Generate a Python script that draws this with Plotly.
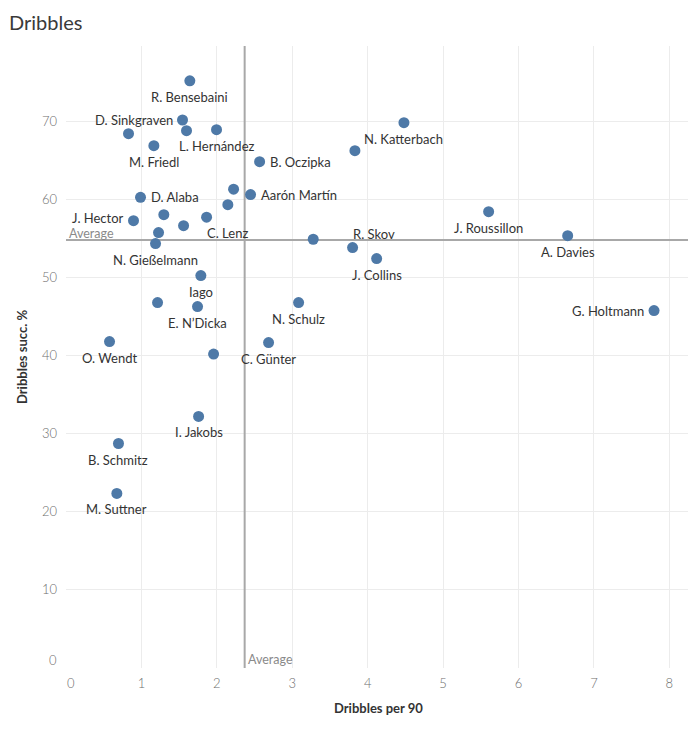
import numpy as np
import plotly.graph_objects as go

# ---- data ----
players = [
    "R. Bensebaini", "D. Sinkgraven", "", "", "L. Hernández", "M. Friedl",
    "B. Oczipka", "N. Katterbach", "", "", "Aarón Martín", "D. Alaba",
    "", "", "C. Lenz", "J. Hector", "", "", "N. Gießelmann", "",
    "R. Skov", "J. Collins", "J. Roussillon", "A. Davies", "G. Holtmann",
    "Iago", "", "E. N’Dicka", "N. Schulz", "O. Wendt", "C. Günter", "",
    "I. Jakobs", "B. Schmitz", "M. Suttner",
]
dribbles_per_90 = [
    1.642, 1.545, 0.829, 1.598, 1.996, 1.165,
    2.567, 4.481, 3.831, 2.222, 2.447, 0.988,
    2.146, 1.297, 1.864, 0.895, 1.559, 1.227, 1.187, 3.278,
    3.800, 4.119, 5.604, 6.652, 7.797,
    1.788, 1.214, 1.744, 3.084, 0.577, 2.686, 1.957,
    1.758, 0.696, 0.674,
]
dribbles_succ_pct = [
    75.15, 70.13, 68.38, 68.76, 68.89, 66.84,
    64.80, 69.78, 66.20, 61.27, 60.58, 60.24,
    59.30, 58.02, 57.69, 57.25, 56.61, 55.72, 54.31, 54.87,
    53.80, 52.39, 58.40, 55.33, 45.74,
    50.22, 46.76, 46.25, 46.76, 41.78, 41.65, 40.17,
    32.19, 28.73, 22.34,
]
x_ticks = [0, 1, 2, 3, 4, 5, 6, 7, 8]
y_ticks = [0, 10, 20, 30, 40, 50, 60, 70]

# label placement (style, kept apart from the data)
label_pos = [
    "b", "l", "", "", "b", "b",
    "r", "b", "", "", "r", "r",
    "", "", "br", "l", "", "", "b", "",
    "tr", "b", "b", "b", "l",
    "b", "", "b", "b", "b", "b", "",
    "b", "b", "b",
]

avg_x = float(np.mean(dribbles_per_90))
avg_y = float(np.mean(dribbles_succ_pct))

FONT = "Lato"
DOT = "#4e79a7"
GREY = "#8a8a8a"
TICK = dict(family=FONT, size=13, color="#6e6e6e", weight=300)
# the page body has an 8px margin, so the figure is sized to fit inside it
OFF = 8
W, H = 696 - OFF, 731 - OFF
L, R, T, B = 66 - OFF, 6, 46 - OFF, 63
PW, PH = W - L - R, H - T - B

fig = go.Figure()
fig.add_trace(go.Scatter(
    x=dribbles_per_90, y=dribbles_succ_pct, mode="markers",
    marker=dict(size=11, color=DOT, line=dict(width=0)),
    hovertext=players, hoverinfo="text", showlegend=False,
))

annotations = []
for name, xv, yv, pos in zip(players, dribbles_per_90, dribbles_succ_pct, label_pos):
    if not name:
        continue
    a = dict(x=xv, y=yv, xref="x", yref="y", text=name, showarrow=False,
             font=dict(family=FONT, size=13, color="#333333"), yanchor="middle")
    if pos == "b":
        a.update(xanchor="center", yshift=-16)
    elif pos == "r":
        a.update(xanchor="left", xshift=8)
    elif pos == "l":
        a.update(xanchor="right", xshift=-8)
    elif pos == "br":
        a.update(xanchor="left", xshift=-2, yshift=-16)
    elif pos == "tr":
        a.update(xanchor="left", xshift=-2, yshift=14)
    if name == "J. Hector":
        a.update(yshift=3)
    annotations.append(a)

# average labels
annotations.append(dict(x=0, y=avg_y, xref="x", yref="y", text="Average", showarrow=False,
                        xanchor="left", yanchor="middle", xshift=1, yshift=6.5,
                        font=dict(family=FONT, size=12.5, color=GREY)))
annotations.append(dict(x=avg_x, y=0, xref="x", yref="y", text="Average", showarrow=False,
                        xanchor="left", yanchor="middle", xshift=1, yshift=9,
                        font=dict(family=FONT, size=12.5, color=GREY)))
# zero tick labels (shifted inside like the original)
annotations.append(dict(x=0, y=0, xref="x", yref="y", text="0", showarrow=False,
                        xanchor="right", yanchor="middle", xshift=-7, yshift=8,
                        font=TICK))
annotations.append(dict(x=0, y=0, xref="x", yref="y", text="0", showarrow=False,
                        xanchor="center", yanchor="middle", xshift=4.5, yshift=-15,
                        font=TICK))
# title
annotations.append(dict(x=(-1.5 - L) / PW, y=1 + (T - (22 - OFF)) / PH, xref="paper", yref="paper",
                        text="Dribbles", showarrow=False, xanchor="left", yanchor="middle",
                        font=dict(family=FONT, size=20, color="#3a3a3a")))
# axis titles
annotations.append(dict(x=0.5, y=-((708 - OFF) - (H - B)) / PH, xref="paper", yref="paper",
                        text="<b>Dribbles per 90</b>", showarrow=False,
                        xanchor="center", yanchor="middle",
                        font=dict(family=FONT, size=13, color="#333333")))
annotations.append(dict(x=((22 - OFF) - L) / PW, y=0.5, xref="paper", yref="paper",
                        text="<b>Dribbles succ. %</b>", showarrow=False, textangle=-90,
                        xanchor="center", yanchor="middle",
                        font=dict(family=FONT, size=13, color="#333333")))

fig.update_layout(
    width=W, height=H,
    margin=dict(l=L, r=R, t=T, b=B, autoexpand=False),
    paper_bgcolor="white", plot_bgcolor="white",
    font=dict(family=FONT, color="#333333"),
    shapes=[
        dict(type="line", xref="x", yref="y", x0=avg_x, x1=avg_x, y0=0, y1=79.6,
             line=dict(color="#a8a8a8", width=2), layer="between"),
        dict(type="line", xref="x", yref="y", x0=0, x1=8.274, y0=avg_y, y1=avg_y,
             line=dict(color="#a8a8a8", width=2), layer="between"),
    ],
    annotations=annotations,
)
fig.update_xaxes(
    range=[0, 8.274], tickvals=x_ticks,
    ticktext=["" if v == 0 else str(v) for v in x_ticks],
    showgrid=True, gridcolor="#ececec", gridwidth=1, zeroline=False,
    showline=False, ticks="", ticklabelstandoff=6, automargin=False,
    tickfont=TICK, fixedrange=True,
)
fig.update_yaxes(
    range=[0, 79.6], tickvals=y_ticks,
    ticktext=["" if v == 0 else str(v) for v in y_ticks],
    showgrid=True, gridcolor="#ececec", gridwidth=1, zeroline=False,
    showline=False, ticks="", ticklabelstandoff=8, automargin=False,
    tickfont=TICK, fixedrange=True,
)

fig.write_html("out.html")
